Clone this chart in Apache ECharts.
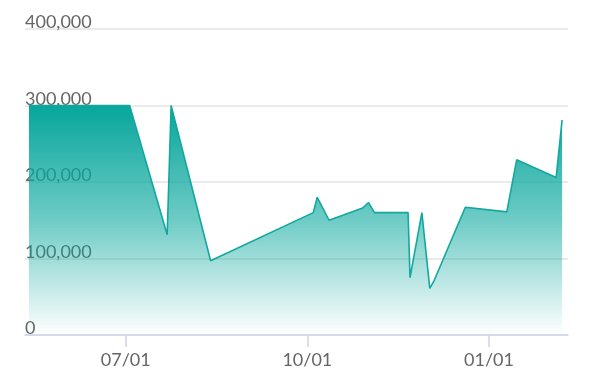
<!DOCTYPE html>
<html>
<head>
<meta charset="utf-8">
<script src="https://cdn.jsdelivr.net/npm/echarts@6/dist/echarts.min.js"></script>
<style>
html,body{margin:0;padding:0;background:#fff;}
#chart{width:593px;height:388px;}
</style>
</head>
<body>
<div id="chart"></div>
<script>
const dates = [
  '2019-05-13','2019-07-03','2019-07-22','2019-07-24','2019-08-13',
  '2019-10-04','2019-10-06','2019-10-12','2019-10-29','2019-11-01',
  '2019-11-04','2019-11-21','2019-11-22','2019-11-28','2019-12-02',
  '2019-12-04','2019-12-05','2019-12-20','2020-01-10','2020-01-15',
  '2020-02-04','2020-02-07'
];
const values = [
  300000, 300000, 131000, 300000, 97000,
  160000, 180000, 150000, 166000, 173000,
  160000, 160000, 75000, 160000, 61000,
  70000, 71000, 167000, 161000, 229000,
  206000, 281000
];
const xTickDates = ['2019-07-01','2019-10-01','2020-01-01'];
const axisMin = '2019-05-11';
const axisMax = '2020-02-10';
const yMax = 400000;
const yStep = 100000;

const ts = d => new Date(d + 'T00:00:00').getTime();
const seriesData = dates.map((d, i) => [ts(d), values[i]]);
const tickValues = xTickDates.map(ts);
const pad = n => (n < 10 ? '0' : '') + n;

const chart = echarts.init(document.getElementById('chart'));
chart.setOption({
  animation: false,
  grid: { left: 25, right: 25, top: 29, bottom: 53, containLabel: false },
  xAxis: {
    type: 'value',
    min: ts(axisMin),
    max: ts(axisMax),
    axisLine: { lineStyle: { color: '#cfd3ea', width: 1.5 } },
    axisTick: { show: true, length: 12, customValues: tickValues, lineStyle: { color: '#cfd3ea', width: 1.5 } },
    splitLine: { show: false },
    axisLabel: {
      customValues: tickValues,
      margin: 16,
      color: '#666',
      fontSize: 18,
      fontFamily: 'Lato',
      formatter: v => { const d = new Date(v); return pad(d.getMonth() + 1) + '/' + pad(d.getDate()); }
    }
  },
  yAxis: {
    type: 'value',
    min: 0,
    max: yMax,
    interval: yStep,
    axisLine: { show: false },
    axisTick: { show: false },
    splitLine: { lineStyle: { color: '#e3e3e3', width: 1.5 } },
    axisLabel: {
      inside: true,
      margin: 0,
      align: 'left',
      verticalAlign: 'bottom',
      lineHeight: 13,
      color: '#666',
      fontSize: 18,
      fontFamily: 'Lato',
      formatter: v => v.toString().replace(/\B(?=(\d{3})+(?!\d))/g, ',')
    }
  },
  series: [{
    type: 'line',
    data: seriesData,
    showSymbol: false,
    symbol: 'none',
    lineStyle: { color: '#12a89f', width: 1.6 },
    areaStyle: {
      opacity: 1,
      color: new echarts.graphic.LinearGradient(0, 0, 0, 1, [
        { offset: 0, color: 'rgba(6,166,156,1)' },
        { offset: 0.5, color: 'rgba(6,166,156,0.58)' },
        { offset: 1, color: 'rgba(6,166,156,0)' }
      ])
    }
  }]
});
</script>
</body>
</html>
